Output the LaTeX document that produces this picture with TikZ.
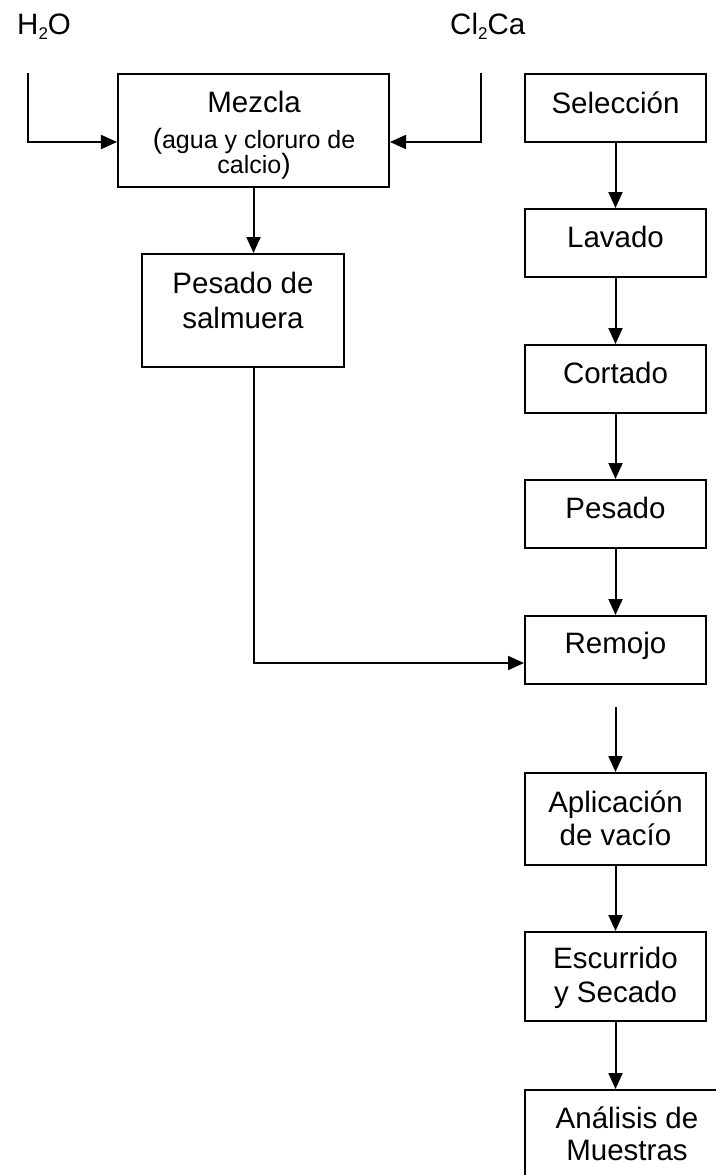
\documentclass[tikz,border=0pt]{standalone}
\usepackage{fontspec}
\setmainfont{Liberation Sans}
\usetikzlibrary{arrows.meta,calc}
\newcommand{\subtwo}{\raisebox{-5bp}{\fontsize{17bp}{17bp}\selectfont 2}}
\tikzset{
  x=1bp, y=1bp,
  box/.style={draw, rectangle, line width=2bp, inner sep=0pt},
  txt/.style={anchor=base, inner sep=0pt, font=\fontsize{29.5bp}{34bp}\selectfont},
  small/.style={anchor=base, inner sep=0pt, font=\fontsize{25bp}{28bp}\selectfont},
  arr/.style={line width=2bp, -{Triangle[length=16bp,width=14bp]}}
}
\begin{document}
\begin{tikzpicture}
\clip (0,0) rectangle (716,-1175);
\fill[white] (0,0) rectangle (716,-1175);

% input labels
\node[txt, anchor=base west] (h2o) at (17,-34) {H\subtwo O};
\node[txt, anchor=base west] (cl) at (450,-34) {Cl\subtwo Ca};

% boxes
\node[box, minimum width=271bp, minimum height=113bp] (mez) at (253.5,-130.5) {};
\node[box, minimum width=202bp, minimum height=113bp] (sal) at (243,-310.5) {};
\node[box, minimum width=181bp, minimum height=68bp] (sel) at (615.5,-108) {};
\node[box, minimum width=181bp, minimum height=68bp] (lav) at (615.5,-243) {};
\node[box, minimum width=181bp, minimum height=68bp] (cor) at (615.5,-379) {};
\node[box, minimum width=181bp, minimum height=68bp] (pes) at (615.5,-514) {};
\node[box, minimum width=181bp, minimum height=68bp] (rem) at (615.5,-650) {};
\node[box, minimum width=181bp, minimum height=92bp] (apl) at (615.5,-819) {};
\node[box, minimum width=181bp, minimum height=89bp] (esc) at (615.5,-976.5) {};
\node[box, minimum width=204bp, minimum height=110bp] (ana) at (627,-1145) {};

% texts
\node[txt] (tmez1) at (254,-112) {Mezcla};
\node[small] (tmez2) at (254,-148) {{\fontsize{28bp}{28bp}\selectfont(}agua y cloruro de};
\node[small] (tmez3) at (254,-173) {calcio{\fontsize{28bp}{28bp}\selectfont)}};
\node[txt] (tsal1) at (243,-293) {Pesado de};
\node[txt] (tsal2) at (243,-328) {salmuera};
\node[txt] (tsel) at (615.5,-113) {Selección};
\node[txt] (tlav) at (615.5,-247) {Lavado};
\node[txt] (tcor) at (615.5,-383) {Cortado};
\node[txt] (tpes) at (615.5,-518) {Pesado};
\node[txt] (trem) at (615.5,-653) {Remojo};
\node[txt] (tapl1) at (615.5,-812) {Aplicación};
\node[txt] (tapl2) at (615.5,-845) {de vacío};
\node[txt] (tesc1) at (615.5,-968) {Escurrido};
\node[txt] (tesc2) at (615.5,-1002) {y Secado};
\node[txt] (tana1) at (627,-1128) {Análisis de};
\node[txt] (tana2) at (627,-1160) {Muestras};

% connector coordinates
\coordinate (h2otop) at (28,-73);
\coordinate (h2obend) at (28,-142);
\coordinate (cltop) at (481,-73);
\coordinate (clbend) at (481,-142);
\coordinate (remin) at ($(rem.south west)+(0,22)$);
\coordinate (gap) at ($(rem.south)+(0,-22)$);

% connectors
\draw[arr] (h2otop) -- (h2obend) -- (h2obend -| mez.west);
\draw[arr] (cltop) -- (clbend) -- (clbend -| mez.east);
\draw[arr] (mez.south) -- (mez.south |- sal.north);
\draw[arr] (mez.south |- sal.south) |- (remin);
\draw[arr] (sel.south) -- (lav.north);
\draw[arr] (lav.south) -- (cor.north);
\draw[arr] (cor.south) -- (pes.north);
\draw[arr] (pes.south) -- (rem.north);
\draw[arr] (gap) -- (apl.north);
\draw[arr] (apl.south) -- (esc.north);
\draw[arr] (esc.south) -- (esc.south |- ana.north);
\end{tikzpicture}
\end{document}
